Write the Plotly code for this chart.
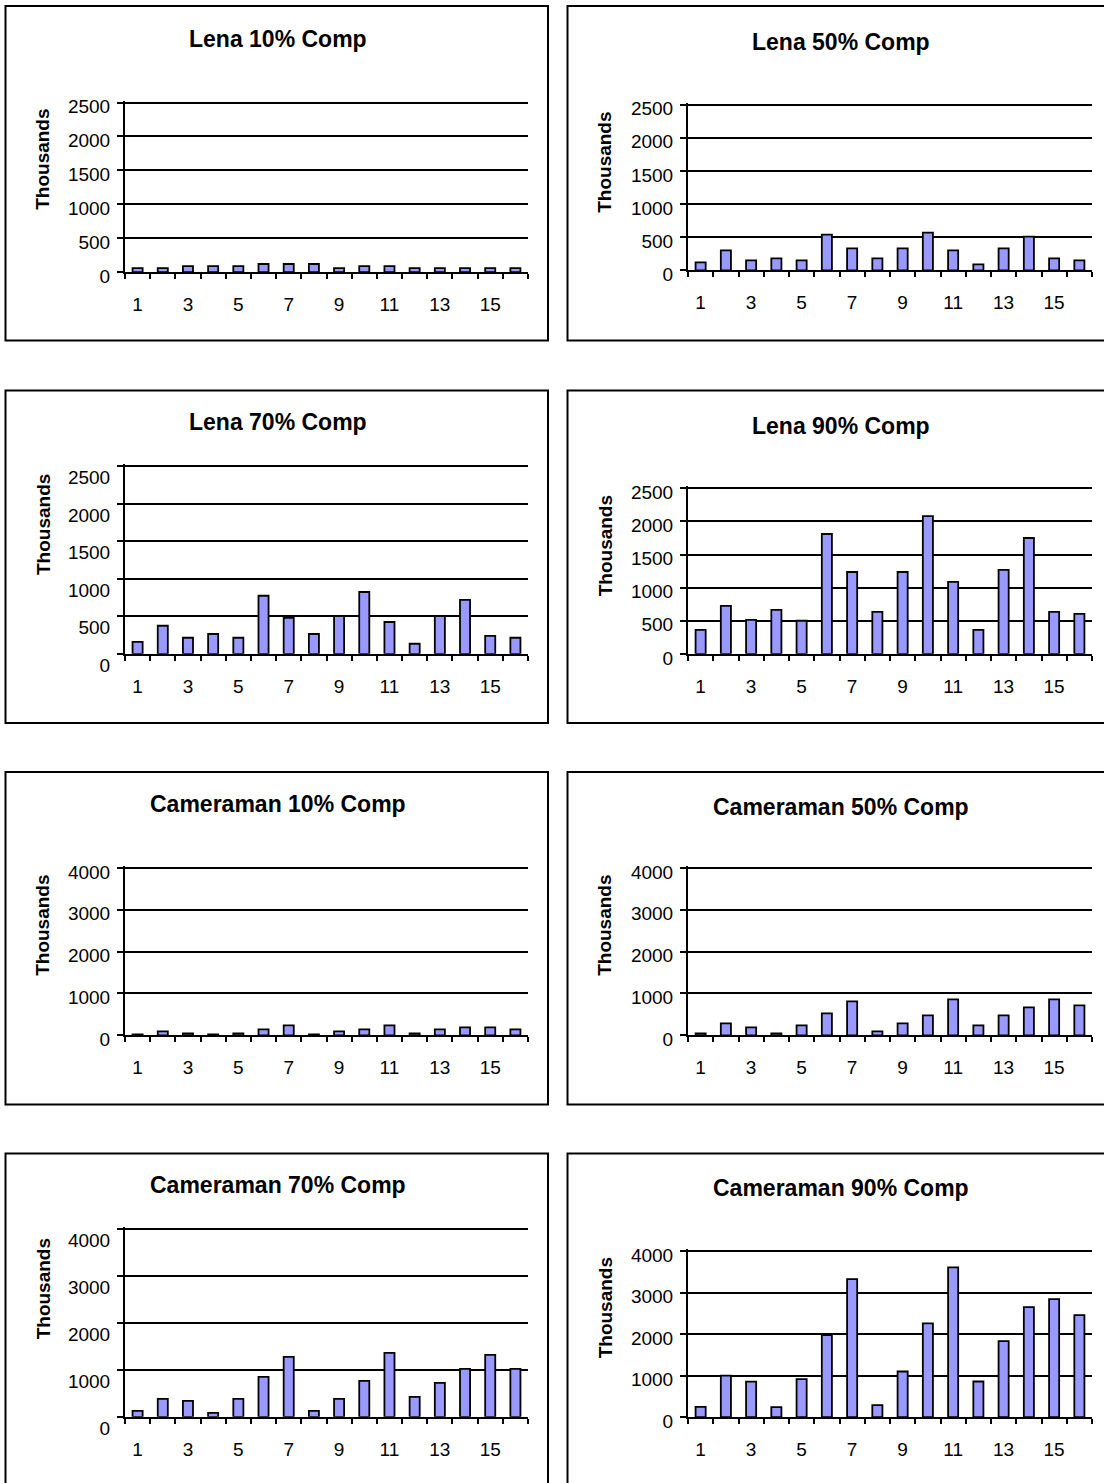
import plotly.graph_objects as go

# ---------------- data ----------------
categories = list(range(1, 17))
x_tick_values = [1, 3, 5, 7, 9, 11, 13, 15]
x_tick_labels = ["1", "3", "5", "7", "9", "11", "13", "15"]
x_boundaries = [c - 0.5 for c in categories] + [categories[-1] + 0.5]

lena_ticks = [0, 500, 1000, 1500, 2000, 2500]
cam_ticks = [0, 1000, 2000, 3000, 4000]

lena_10 = [60, 60, 90, 90, 90, 120, 120, 120, 60, 90, 90, 60, 60, 60, 60, 60]
lena_50 = [120, 300, 150, 180, 150, 540, 330, 180, 330, 570, 300, 90, 330, 510, 180, 150]
lena_70 = [160, 375, 215, 265, 215, 775, 480, 265, 505, 825, 425, 135, 505, 720, 240, 215]
lena_90 = [362, 724, 513, 664, 500, 1811, 1237, 634, 1237, 2082, 1087, 362, 1268, 1750, 634, 604]
cam_10 = [20, 95, 48, 20, 48, 143, 239, 20, 95, 143, 239, 48, 143, 191, 191, 143]
cam_50 = [48, 286, 191, 48, 239, 525, 811, 95, 286, 477, 859, 239, 477, 668, 859, 716]
cam_70 = [128, 384, 342, 85, 384, 854, 1281, 128, 384, 769, 1367, 427, 726, 1025, 1324, 1025]
cam_90 = [250, 1000, 858, 241, 916, 1976, 3325, 289, 1100, 2257, 3606, 859, 1831, 2651, 2843, 2458]

titles = ["Lena 10% Comp", "Lena 50% Comp", "Lena 70% Comp", "Lena 90% Comp",
          "Cameraman 10% Comp", "Cameraman 50% Comp", "Cameraman 70% Comp", "Cameraman 90% Comp"]
series = [lena_10, lena_50, lena_70, lena_90, cam_10, cam_50, cam_70, cam_90]
y_ticks = [lena_ticks] * 4 + [cam_ticks] * 4
y_title = "Thousands"

# ---------------- layout (target pixels in the 1104x1483 picture) ----------------
W = 1104
OFF_Y, SCALE_Y = 2.0, 0.984          # empirical vertical mapping of the renderer
H = 1505                              # figure height that fills the captured view

panels = [
    dict(plot=(125, 528, 100.7, 270.5), box=(5.5, 4, 548, 339), t=(278, 37), yt=(43, 158), shift=4),
    dict(plot=(688, 1092, 102.7, 268.7), box=(567.5, 4, 1115, 339), t=(841, 39.7), yt=(605, 161), shift=4),
    dict(plot=(125, 528, 465, 652.7), box=(5.5, 389, 548, 722), t=(278, 421), yt=(43, 523.7), shift=11),
    dict(plot=(688, 1092, 487, 652.7), box=(567.5, 389, 1115, 722), t=(841, 424.7), yt=(605, 545), shift=4),
    dict(plot=(125, 528, 867, 1034.7), box=(5.5, 771, 548, 1104), t=(278, 803), yt=(43, 925), shift=4),
    dict(plot=(688, 1092, 867, 1034.7), box=(567.5, 771, 1115, 1104), t=(841, 806), yt=(605, 925), shift=4),
    dict(plot=(125, 528, 1229, 1416.7), box=(5.5, 1153, 548, 1530), t=(278, 1185), yt=(43, 1289), shift=11),
    dict(plot=(688, 1092, 1250.7, 1417), box=(567.5, 1153, 1115, 1530), t=(841, 1188), yt=(605, 1308), shift=4),
]

FONT = "Liberation Sans, Arial, Helvetica, sans-serif"
BAR_COLOR = "#9999FF"
PAD = 0.012  # small headroom so the top gridline is drawn

def px(x):
    return x / W

def fy(y):
    return (y - OFF_Y) / SCALE_Y

def py(y):
    return 1 - fy(y) / H

fig = go.Figure()
layout = dict(
    width=W, height=H,
    margin=dict(l=0, r=0, t=0, b=0),
    paper_bgcolor="white", plot_bgcolor="rgba(0,0,0,0)",
    showlegend=False, bargap=0.6,
    font=dict(family=FONT, color="black"),
)
annotations = []
shapes = []

for i, (p, vals, title, yt) in enumerate(zip(panels, series, titles, y_ticks)):
    n = "" if i == 0 else str(i + 1)
    x0, x1, ytop, ybot = p["plot"]
    ymax = yt[-1]
    ytop_ext = ytop - (ybot - ytop) * PAD
    fig.add_trace(go.Bar(
        x=categories, y=vals,
        xaxis="x" + n, yaxis="y" + n,
        marker=dict(color=BAR_COLOR, line=dict(color="black", width=1.8)),
        hoverinfo="x+y",
    ))
    layout["xaxis" + n] = dict(
        domain=[px(x0), px(x1)], anchor="y" + n,
        range=[0.5, 16.5], tickmode="array",
        tickvals=x_tick_values, ticktext=x_tick_labels,
        ticks="", ticklabelstandoff=14,
        minor=dict(tickmode="array", tickvals=x_boundaries, ticks="outside",
                   ticklen=5, tickwidth=2, tickcolor="black", showgrid=False),
        showline=True, linewidth=2, linecolor="black",
        showgrid=False, zeroline=False, fixedrange=True,
        tickfont=dict(size=19, family=FONT, color="black"),
    )
    layout["yaxis" + n] = dict(
        domain=[py(ybot), py(ytop_ext)], anchor="x" + n,
        range=[0, ymax * (1 + PAD)], tickmode="array", tickvals=yt,
        ticktext=[str(v) for v in yt],
        ticks="outside", ticklen=6, tickwidth=2, tickcolor="black",
        ticklabelstandoff=3, ticklabelshift=p["shift"],
        showline=True, linewidth=2, linecolor="black",
        showgrid=True, gridcolor="black", gridwidth=2,
        zeroline=False, fixedrange=True,
        tickfont=dict(size=19, family=FONT, color="black"),
    )
    bx0, by0, bx1, by1 = p["box"]
    shapes.append(dict(type="rect", xref="paper", yref="paper",
                       x0=px(bx0), x1=px(bx1), y0=py(by1), y1=py(by0),
                       line=dict(color="black", width=2), fillcolor="rgba(0,0,0,0)",
                       layer="below"))
    annotations.append(dict(text="<b>" + title + "</b>", xref="paper", yref="paper",
                            x=px(p["t"][0]), y=py(p["t"][1]), xanchor="center", yanchor="middle",
                            showarrow=False, font=dict(size=23, family=FONT, color="black")))
    annotations.append(dict(text="<b>" + y_title + "</b>", xref="paper", yref="paper",
                            x=px(p["yt"][0]), y=py(p["yt"][1]), xanchor="center", yanchor="middle",
                            textangle=-90, showarrow=False,
                            font=dict(size=19, family=FONT, color="black")))

layout["annotations"] = annotations
layout["shapes"] = shapes
fig.update_layout(**layout)

POST = (
    "document.documentElement.style.margin='0';"
    "document.documentElement.style.padding='0';"
    "document.documentElement.style.overflow='hidden';"
    "document.body.style.margin='0';"
    "document.body.style.padding='0';"
    "document.body.style.overflow='hidden';"
    "var gd=document.getElementsByClassName('plotly-graph-div')[0];"
    "gd.style.position='fixed';gd.style.top='0px';gd.style.left='0px';"
)
fig.write_html("out.html", config={"displayModeBar": False}, post_script=POST)
